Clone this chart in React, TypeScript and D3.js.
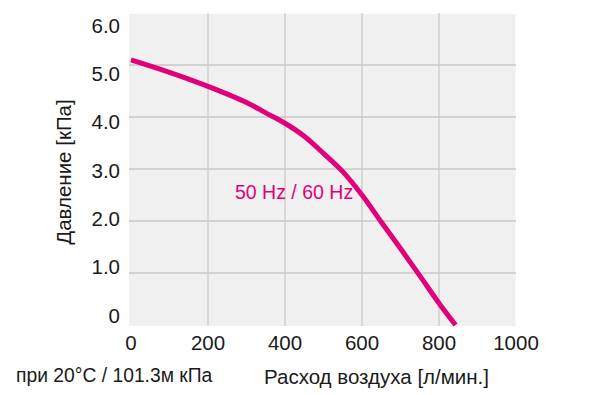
import { useEffect, useRef } from 'react';
import * as d3 from 'd3';

// curve: airflow [л/мин.] vs pressure [кПа]
const flow = [0, 100, 200, 300, 350, 400, 450, 500, 550, 600, 650, 700, 750, 800, 843];
const pressure = [5.1, 4.86, 4.59, 4.28, 4.08, 3.88, 3.63, 3.3, 2.95, 2.5, 1.98, 1.47, 0.95, 0.42, 0];

const xTicks = [0, 200, 400, 600, 800, 1000];
const yTicks = [0, 1, 2, 3, 4, 5, 6];
const yTickLabels = ['0', '1.0', '2.0', '3.0', '4.0', '5.0', '6.0'];

const seriesLabel = '50 Hz / 60 Hz';
const xTitle = 'Расход воздуха [л/мин.]';
const yTitle = 'Давление [кПа]';
const footnote = 'при 20°С / 101.3м кПа';

const FONT = '"Liberation Sans", Arial, Helvetica, sans-serif';
const PINK = '#e2007a';
const INK = '#1a1a1a';

export default function App() {
  const svgRef = useRef<SVGSVGElement>(null);

  useEffect(() => {
    if (!svgRef.current) return;
    const svg = d3.select(svgRef.current);
    svg.selectAll('*').remove();

    const x = d3.scaleLinear().domain([0, 1000]).range([131, 516]);
    const y = d3.scaleLinear().domain([0, 6]).range([325, 13]);
    // tick labels sit on a slightly tighter spacing than the grid
    const yLab = d3.scaleLinear().domain([0, 6]).range([315, 25]);

    svg.append('rect')
      .attr('x', x(0) - 2)
      .attr('y', y(6) + 1)
      .attr('width', x(1000) - x(0) + 1.5)
      .attr('height', y(0) - y(6))
      .attr('fill', '#f0f0f0');

    const grid = svg.append('g').attr('stroke', '#c9c9c9').attr('stroke-width', 1.3);
    grid.selectAll('line.v')
      .data(xTicks.filter((d) => d > 0 && d < 1000))
      .join('line')
      .attr('x1', (d) => x(d))
      .attr('x2', (d) => x(d))
      .attr('y1', y(6))
      .attr('y2', y(0) + 1);
    grid.selectAll('line.h')
      .data(yTicks.filter((d) => d > 0 && d < 6))
      .join('line')
      .attr('x1', x(0) - 2)
      .attr('x2', x(1000))
      .attr('y1', (d) => y(d))
      .attr('y2', (d) => y(d));

    const line = d3.line<number>()
      .x((_, i) => x(flow[i]))
      .y((d) => y(d))
      .curve(d3.curveCatmullRom.alpha(0.5));

    svg.append('path')
      .datum(pressure)
      .attr('d', line)
      .attr('fill', 'none')
      .attr('stroke', PINK)
      .attr('stroke-width', 5);

    svg.append('text')
      .attr('x', 235)
      .attr('y', 192)
      .attr('dominant-baseline', 'central')
      .attr('font-family', FONT)
      .attr('font-size', 19.5)
      .attr('fill', PINK)
      .text(seriesLabel);

    svg.append('g')
      .selectAll('text')
      .data(yTicks)
      .join('text')
      .attr('x', 120)
      .attr('y', (d) => yLab(d))
      .attr('text-anchor', 'end')
      .attr('dominant-baseline', 'central')
      .attr('font-family', FONT)
      .attr('font-size', 20.5)
      .attr('fill', INK)
      .text((_, i) => yTickLabels[i]);

    svg.append('g')
      .selectAll('text')
      .data(xTicks)
      .join('text')
      .attr('x', (d) => x(d))
      .attr('y', 342)
      .attr('text-anchor', 'middle')
      .attr('dominant-baseline', 'central')
      .attr('font-family', FONT)
      .attr('font-size', 20.5)
      .attr('fill', INK)
      .text((d) => String(d));

    svg.append('text')
      .attr('transform', 'translate(63,172) rotate(-90)')
      .attr('text-anchor', 'middle')
      .attr('dominant-baseline', 'central')
      .attr('font-family', FONT)
      .attr('font-size', 20.5)
      .attr('fill', INK)
      .text(yTitle);

    svg.append('text')
      .attr('x', 264)
      .attr('y', 376)
      .attr('dominant-baseline', 'central')
      .attr('font-family', FONT)
      .attr('font-size', 20.5)
      .attr('fill', INK)
      .text(xTitle);

    svg.append('text')
      .attr('x', 16)
      .attr('y', 375)
      .attr('dominant-baseline', 'central')
      .attr('font-family', FONT)
      .attr('font-size', 19.3)
      .attr('fill', INK)
      .text(footnote);
  }, []);

  return (
    <svg
      ref={svgRef}
      width={600}
      height={395}
      style={{ position: 'absolute', left: 0, top: 0, background: '#fff' }}
    />
  );
}
